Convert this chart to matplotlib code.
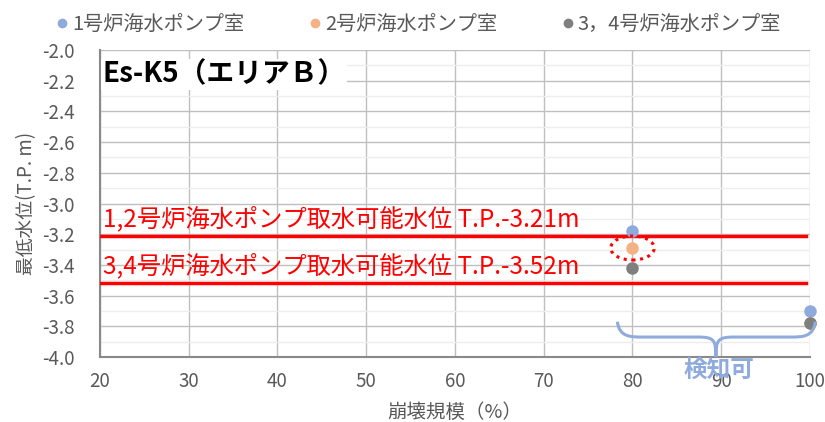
import matplotlib
matplotlib.use("Agg")
import matplotlib.pyplot as plt
from matplotlib.patches import Ellipse, PathPatch
from matplotlib.path import Path

plt.rcParams['font.family'] = ['Noto Sans CJK JP', 'DejaVu Sans']

# ---- data ----
series_names = ['1号炉海水ポンプ室', '2号炉海水ポンプ室', '3，4号炉海水ポンプ室']
series_colors = ['#8FAADC', '#F4B183', '#7F7F7F']
collapse_scale = [80, 100]
level_unit1 = [-3.18, -3.70]
level_unit2 = [-3.29, -3.78]
level_unit34 = [-3.42, -3.78]
series_values = [level_unit1, level_unit2, level_unit34]

limit_12 = -3.21
limit_34 = -3.52
limit_12_label = '1,2号炉海水ポンプ取水可能水位 T.P.-3.21m'
limit_34_label = '3,4号炉海水ポンプ取水可能水位 T.P.-3.52m'
title_text = 'Es-K5（エリアＢ）'
detect_text = '検知可'
xlabel = '崩壊規模（%）'
ylabel = '最低水位(T.P. m)'

xticks = [20, 30, 40, 50, 60, 70, 80, 90, 100]
yticks = [-2.0, -2.2, -2.4, -2.6, -2.8, -3.0, -3.2, -3.4, -3.6, -3.8, -4.0]

tc = '#595959'

fig = plt.figure(figsize=(8.25, 4.22), dpi=100)
ax = fig.add_axes([0.1212, 0.154, 0.8606, 0.7275])

ax.set_xlim(20, 100)
ax.set_ylim(-4.0, -2.0)
ax.set_xticks(xticks)
ax.set_yticks(yticks)
ax.set_yticks([v - 0.1 for v in yticks[:-1]], minor=True)
ax.set_yticklabels([f'{v:.1f}' for v in yticks])
ax.tick_params(axis='both', which='both', length=0, labelsize=13.5, colors=tc)
ax.tick_params(axis='y', pad=18)
ax.tick_params(axis='x', pad=10)
ax.grid(True, which='major', color='#BFBFBF', linewidth=1.0)
ax.grid(True, which='minor', axis='y', color='#EDEDED', linewidth=1.0)
ax.set_axisbelow(True)
for s in ['top', 'right']:
    ax.spines[s].set_visible(False)
for s in ['left', 'bottom']:
    ax.spines[s].set_color('#898989')
    ax.spines[s].set_linewidth(1.5)

ax.set_xlabel(xlabel, fontsize=14, color=tc, labelpad=7)
ax.set_ylabel(ylabel, fontsize=13.5, color=tc, labelpad=4)

# limit lines
ax.plot([20, 99.5], [limit_12, limit_12], color='#FF0000', lw=2.5, zorder=3)
ax.plot([20, 99.5], [limit_34, limit_34], color='#FF0000', lw=2.5, zorder=3)
ax.text(20.3, limit_12 + 0.025, limit_12_label, color='#FF0000', fontsize=17.5,
        ha='left', va='bottom', zorder=4)
ax.text(20.3, limit_34 + 0.025, limit_34_label, color='#FF0000', fontsize=17.5,
        ha='left', va='bottom', zorder=4)

# series
handles = []
for name, col, vals in zip(series_names, series_colors, series_values):
    h, = ax.plot(collapse_scale, vals, 'o', color=col, markersize=8,
                 label=name, zorder=5, clip_on=False, linestyle='none')
    handles.append(h)

# title box
ax.text(20.3, -2.16, title_text, fontsize=20, fontweight='bold', color='black',
        ha='left', va='center', zorder=6,
        bbox=dict(facecolor='white', edgecolor='none', pad=1.0))

# dotted ellipse around unit2 point at 80
ell = Ellipse((collapse_scale[0], level_unit2[0]), 4.9, 0.156, fill=False,
              edgecolor='#FF0000', linestyle=(0, (1, 1.5)), linewidth=2.2, zorder=6)
ax.add_patch(ell)

# curly brace
x0, x1, xm = 78.3, 100.6, 89.4
yt, yh, yb = -3.77, -3.87, -4.0
verts = [
    (x0, yt),
    (x0 + 0.2, yh), (x0 + 1.5, yh), (x0 + 2.8, yh),
    (xm - 2.0, yh),
    (xm - 0.2, yh), (xm, yh - 0.02), (xm, yb),
    (xm, yh - 0.02), (xm + 0.2, yh), (xm + 2.0, yh),
    (x1 - 2.8, yh),
    (x1 - 1.5, yh), (x1 - 0.2, yh), (x1, yt),
]
codes = [Path.MOVETO,
         Path.CURVE4, Path.CURVE4, Path.CURVE4,
         Path.LINETO,
         Path.CURVE4, Path.CURVE4, Path.CURVE4,
         Path.CURVE4, Path.CURVE4, Path.CURVE4,
         Path.LINETO,
         Path.CURVE4, Path.CURVE4, Path.CURVE4]
brace = PathPatch(Path(verts, codes), fill=False, edgecolor='#8FAADC',
                  linewidth=2.2, zorder=6, clip_on=False)
ax.add_patch(brace)
ax.text(xm + 0.3, -4.085, detect_text, fontsize=17, fontweight='bold',
        color='#8FAADC', ha='center', va='center', zorder=7, clip_on=False)

fig.legend(handles=handles, labels=series_names, loc='upper center',
           bbox_to_anchor=(0.505, 1.01), ncol=3, frameon=False, fontsize=14.5,
           labelcolor=tc, markerscale=0.75, handletextpad=0.0,
           columnspacing=3.0, handlelength=1.0)

fig.savefig('out.png', dpi=100)
